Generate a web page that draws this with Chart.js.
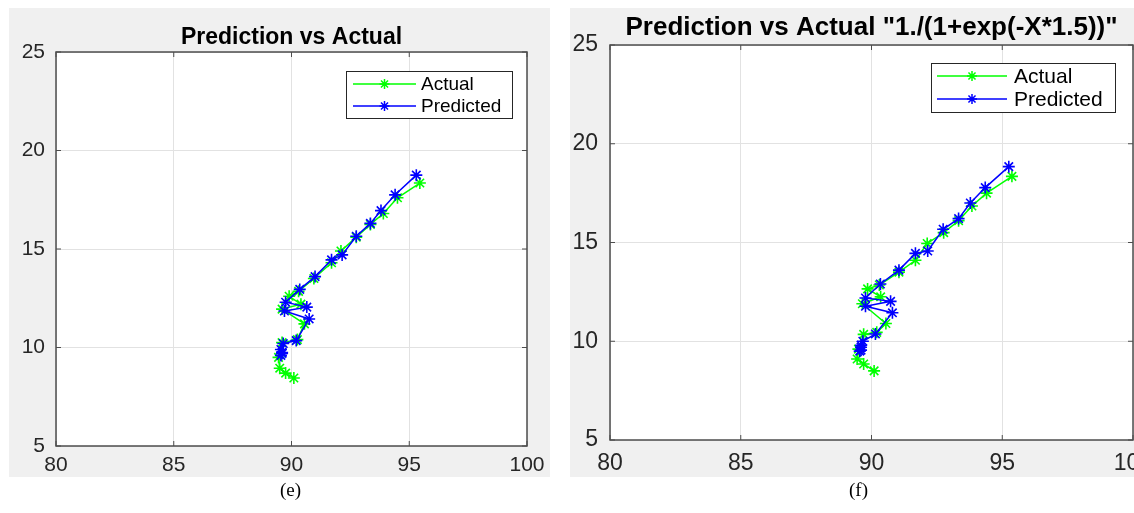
<!DOCTYPE html>
<html>
<head>
<meta charset="utf-8">
<script src="https://cdn.jsdelivr.net/npm/chart.js@4"></script>
<style>
  html, body { margin: 0; padding: 0; background: #fff; width: 1134px; height: 513px; overflow: hidden; }
  body { position: relative; }
  .box { position: absolute; top: 0; height: 480px; }
  #boxE { left: 0; width: 560px; }
  #boxF { left: 570px; width: 640px; }
  .cap { position: absolute; top: 479px; font-family: 'Liberation Serif', 'Times New Roman', serif; font-size: 19px; color: #000; }
</style>
</head>
<body>
<div class="box" id="boxE"><canvas id="chartE" width="560" height="480"></canvas></div>
<div class="box" id="boxF"><canvas id="chartF" width="640" height="480"></canvas></div>
<div class="cap" style="left:280px">(e)</div>
<div class="cap" style="left:849px">(f)</div>
<script>
// (e) Prediction vs Actual
const actXe = [90.1, 89.75, 89.5, 89.45, 89.6, 90.25, 90.55, 89.6, 90.4, 89.9, 90.3, 90.95, 91.7, 92.1, 92.75, 93.35, 93.9, 94.5, 95.45];
const actYe = [8.45, 8.7, 8.95, 9.5, 10.25, 10.4, 11.2, 11.95, 12.2, 12.6, 12.85, 13.5, 14.3, 14.9, 15.6, 16.25, 16.8, 17.6, 18.35];
const predXe = [89.6, 89.55, 89.6, 89.55, 89.65, 90.2, 90.75, 89.7, 90.65, 89.75, 90.35, 91.0, 91.7, 92.15, 92.75, 93.35, 93.8, 94.4, 95.3];
const predYe = [9.7, 9.6, 9.75, 9.9, 10.2, 10.35, 11.45, 11.85, 12.05, 12.3, 12.95, 13.6, 14.45, 14.7, 15.65, 16.3, 16.95, 17.75, 18.75];

// (f) Prediction vs Actual "1./(1+exp(-X*1.5))"
const actXf = [90.1, 89.7, 89.45, 89.5, 89.7, 90.2, 90.55, 89.65, 90.35, 89.85, 90.3, 91.05, 91.68, 92.13, 92.76, 93.33, 93.84, 94.4, 95.37];
const actYf = [8.5, 8.85, 9.1, 9.6, 10.35, 10.45, 10.9, 11.9, 12.25, 12.65, 12.85, 13.5, 14.1, 14.95, 15.5, 16.1, 16.85, 17.5, 18.35];
const predXf = [89.6, 89.55, 89.6, 89.6, 89.67, 90.15, 90.8, 89.77, 90.73, 89.77, 90.34, 91.05, 91.68, 92.15, 92.74, 93.33, 93.78, 94.35, 95.25];
const predYf = [9.55, 9.5, 9.7, 9.8, 10.0, 10.37, 11.44, 11.77, 12.02, 12.19, 12.9, 13.6, 14.45, 14.57, 15.67, 16.21, 17.0, 17.78, 18.84];

const xTicks = [80, 85, 90, 95, 100];
const yTicks = [5, 10, 15, 20, 25];
const seriesNames = ['Actual', 'Predicted'];

const FONT = "'Liberation Sans', Arial, Helvetica, sans-serif";
const INK = '#262626';

function pts(xs, ys) { return xs.map((x, i) => ({ x: x, y: ys[i] })); }

// grey figure background + white axes
const panelBg = {
  id: 'panelBg',
  beforeDraw(chart, args, o) {
    const ctx = chart.ctx, a = chart.chartArea;
    ctx.save();
    ctx.fillStyle = '#f0f0f0';
    ctx.fillRect(o.x, o.y, o.w, o.h);
    ctx.fillStyle = '#fff';
    ctx.fillRect(a.left, a.top, a.right - a.left, a.bottom - a.top);
    ctx.restore();
  }
};

// box round the axes with inward ticks, and the title
const frame = {
  id: 'frame',
  afterDatasetsDraw(chart, args, o) {
    const ctx = chart.ctx, a = chart.chartArea;
    const xs = chart.scales.x, ys = chart.scales.y;
    ctx.save();
    ctx.strokeStyle = '#4d4d4d';
    ctx.lineWidth = 1.5;
    ctx.strokeRect(a.left, a.top, a.right - a.left, a.bottom - a.top);
    ctx.lineWidth = 1;
    ctx.beginPath();
    xTicks.forEach(v => {
      const px = xs.getPixelForValue(v);
      ctx.moveTo(px, a.bottom); ctx.lineTo(px, a.bottom - 5);
      ctx.moveTo(px, a.top); ctx.lineTo(px, a.top + 5);
    });
    yTicks.forEach(v => {
      const py = ys.getPixelForValue(v);
      ctx.moveTo(a.left, py); ctx.lineTo(a.left + 5, py);
      ctx.moveTo(a.right, py); ctx.lineTo(a.right - 5, py);
    });
    ctx.stroke();
    ctx.fillStyle = '#000';
    ctx.font = 'bold ' + o.size + 'px ' + FONT;
    ctx.textAlign = 'center';
    ctx.textBaseline = 'middle';
    ctx.fillText(o.text, (a.left + a.right) / 2, o.y);
    ctx.restore();
  }
};

// MATLAB-like legend box inside the axes
const boxLegend = {
  id: 'boxLegend',
  afterDraw(chart, args, o) {
    const ctx = chart.ctx;
    ctx.save();
    ctx.fillStyle = '#fff';
    ctx.fillRect(o.x, o.y, o.w, o.h);
    ctx.strokeStyle = INK;
    ctx.lineWidth = 1;
    ctx.strokeRect(o.x + 0.5, o.y + 0.5, o.w, o.h);
    chart.data.datasets.forEach((ds, i) => {
      const cy = o.y + o.rowTop + i * o.rowH;
      const x0 = o.x + o.line0, x1 = o.x + o.line1;
      ctx.strokeStyle = ds.borderColor;
      ctx.lineWidth = 1.4;
      ctx.beginPath(); ctx.moveTo(x0, cy); ctx.lineTo(x1, cy); ctx.stroke();
      ctx.lineWidth = 1.5;
      Chart.helpers.drawPoint(ctx, { pointStyle: 'star', radius: 5, borderWidth: 1.5, rotation: 0 }, (x0 + x1) / 2, cy);
      ctx.fillStyle = '#000';
      ctx.font = o.size + 'px ' + FONT;
      ctx.textAlign = 'left';
      ctx.textBaseline = 'middle';
      ctx.fillText(ds.label, o.x + o.textX, cy + 1);
    });
    ctx.restore();
  }
};

function makeChart(id, act, pred, s) {
  return new Chart(document.getElementById(id), {
    type: 'scatter',
    data: {
      datasets: [
        { label: seriesNames[0], data: act, order: 1, showLine: true, borderColor: '#00ff00', backgroundColor: '#00ff00',
          borderWidth: 1.5, pointStyle: 'star', pointRadius: 6, pointBorderWidth: 1.6, pointHoverRadius: 6 },
        { label: seriesNames[1], data: pred, order: 0, showLine: true, borderColor: '#0000ff', backgroundColor: '#0000ff',
          borderWidth: 1.5, pointStyle: 'star', pointRadius: 6, pointBorderWidth: 1.6, pointHoverRadius: 6 }
      ]
    },
    options: {
      responsive: false,
      animation: false,
      layout: { padding: { top: s.top, right: s.right, bottom: 0, left: 0 } },
      scales: {
        x: {
          type: 'linear', min: 80, max: 100,
          afterBuildTicks: sc => { sc.ticks = xTicks.map(v => ({ value: v })); },
          afterFit: sc => { sc.height = s.xh; },
          grid: { color: '#e2e2e2', drawTicks: false },
          border: { display: false },
          ticks: { color: INK, padding: s.xpad, font: { family: FONT, size: s.tick }, maxRotation: 0 }
        },
        y: {
          type: 'linear', min: 5, max: 25,
          afterBuildTicks: sc => { sc.ticks = yTicks.map(v => ({ value: v })); },
          afterFit: sc => { sc.width = s.yw; },
          grid: { color: '#e2e2e2', drawTicks: false },
          border: { display: false },
          ticks: { color: INK, padding: s.ypad, font: { family: FONT, size: s.tick } }
        }
      },
      plugins: {
        legend: { display: false },
        tooltip: { enabled: false },
        panelBg: s.panel,
        frame: s.title,
        boxLegend: s.legend
      }
    },
    plugins: [panelBg, frame, boxLegend]
  });
}

makeChart('chartE', pts(actXe, actYe), pts(predXe, predYe), {
  top: 52, right: 33, xh: 34, yw: 56, xpad: 7, ypad: 11, tick: 21,
  panel: { x: 9, y: 8, w: 541, h: 469 },
  title: { text: 'Prediction vs Actual', size: 23, y: 38 },
  legend: { x: 346, y: 71, w: 166, h: 47, rowTop: 13, rowH: 22, line0: 7, line1: 70, textX: 75, size: 19 }
});

makeChart('chartF', pts(actXf, actYf), pts(predXf, predYf), {
  top: 45, right: 77, xh: 40, yw: 40, xpad: 10, ypad: 12, tick: 23,
  panel: { x: 0, y: 8, w: 640, h: 469 },
  title: { text: 'Prediction vs Actual "1./(1+exp(-X*1.5))"', size: 26, y: 28 },
  legend: { x: 361, y: 63, w: 184, h: 49, rowTop: 13, rowH: 23, line0: 6, line1: 76, textX: 83, size: 21 }
});
</script>
</body>
</html>
